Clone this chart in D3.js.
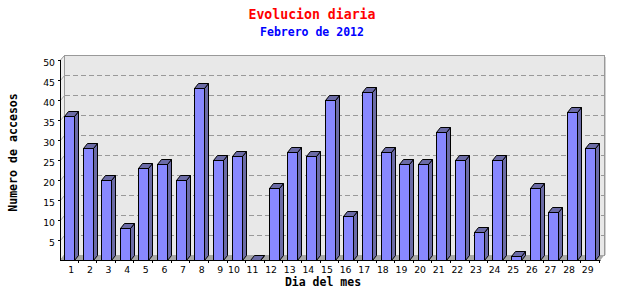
<!DOCTYPE html>
<html>
<head>
<meta charset="utf-8">
<script src="https://cdn.jsdelivr.net/npm/d3@7"></script>
<style>
  body { margin: 0; background: #fff; }
  text { font-family: "DejaVu Sans Mono", monospace; }
</style>
</head>
<body>
<svg width="640" height="300"></svg>
<script>
// data
var dias = ["1","2","3","4","5","6","7","8","9","10","11","12","13","14","15",
            "16","17","18","19","20","21","22","23","24","25","26","27","28","29"];
var accesos = [36,28,20,8,23,24,20,43,25,26,0,18,27,26,40,11,42,27,24,24,32,25,7,25,1,18,12,37,28];
var yTicks = [5,10,15,20,25,30,35,40,45,50];
var titulo = "Evolucion diaria",
    subtitulo = "Febrero de 2012",
    tituloX = "Dia del mes",
    tituloY = "Numero de accesos";

// plot area (window.top is reserved, so no "top" here)
var svg = d3.select("svg"),
    pLeft = 60, pRight = 600, pTop = 60, pBottom = 260,
    dx = 4, dy = 5, // depth of the 3d effect
    w = 10;         // bar front width

var x = d3.scaleBand().domain(dias).range([pLeft, pRight]).paddingInner(0);
var y = d3.scaleLinear().domain([0, 50]).range([pBottom, pTop]);

// back wall
svg.append("rect")
    .attr("x", pLeft + dx + 0.5).attr("y", pTop - dy + 0.5)
    .attr("width", pRight - pLeft).attr("height", pBottom - pTop)
    .attr("fill", "#e8e8e8")
    .attr("stroke", "#999");

// left wall
svg.append("path")
    .attr("d", "M" + (pLeft + 0.5) + "," + pTop + "L" + (pLeft + dx + 0.5) + "," + (pTop - dy + 0.5) +
               "L" + (pLeft + dx + 0.5) + "," + (pBottom - dy) + "L" + (pLeft + 0.5) + "," + pBottom + "Z")
    .attr("fill", "#eeeeee")
    .attr("stroke", "#999");

// floor
svg.append("path")
    .attr("d", "M" + pLeft + "," + pBottom + "L" + (pLeft + dx) + "," + (pBottom - dy) +
               "L" + (pRight + dx + 0.5) + "," + (pBottom - dy) + "L" + (pRight + 0.5) + "," + pBottom + "Z")
    .attr("fill", "#a8a8a8");

// shadow on the right of the wall
svg.append("line")
    .attr("x1", pRight + dx + 1.5).attr("x2", pRight + dx + 1.5)
    .attr("y1", pTop - dy + 2).attr("y2", pBottom - dy)
    .attr("stroke", "#d0d0d0");

// dashed grid on the back wall
svg.append("g")
  .selectAll("line")
  .data(yTicks.slice(0, -1))
  .enter().append("line")
    .attr("x1", pLeft + dx + 1).attr("x2", pRight + dx)
    .attr("y1", function(d) { return y(d) - dy + 0.5; })
    .attr("y2", function(d) { return y(d) - dy + 0.5; })
    .attr("stroke", "#999")
    .attr("stroke-dasharray", "5,3");

// grid on the left wall
svg.append("g")
  .selectAll("line")
  .data(yTicks.slice(0, -1))
  .enter().append("line")
    .attr("x1", pLeft + 0.5).attr("x2", pLeft + dx + 0.5)
    .attr("y1", function(d) { return y(d) + 0.5; })
    .attr("y2", function(d) { return y(d) - dy + 0.5; })
    .attr("stroke", "#aaa");

// 3d bars
function x0(i) { return Math.round(x(dias[i]) + 4) + 0.5; }
function yt(d) { return Math.round(y(d)) + 0.5; }

var bar = svg.append("g")
  .selectAll("g")
  .data(accesos)
  .enter().append("g")
    .attr("stroke", "#000");

bar.append("path") // side
    .attr("fill", "#6b6ba6")
    .attr("d", function(d, i) {
      var a = x0(i) + w, t = yt(d), b = pBottom + 0.5;
      return "M" + a + "," + t + "L" + (a + dx) + "," + (t - dy) + "L" + (a + dx) + "," + (b - dy) + "L" + a + "," + b + "Z";
    });

bar.append("path") // top
    .attr("fill", "#6b6ba6")
    .attr("d", function(d, i) {
      var a = x0(i), t = yt(d);
      return "M" + a + "," + t + "L" + (a + dx) + "," + (t - dy) + "L" + (a + w + dx) + "," + (t - dy) + "L" + (a + w) + "," + t + "Z";
    });

bar.append("rect") // front
    .attr("fill", "#8888ff")
    .attr("x", function(d, i) { return x0(i); })
    .attr("y", function(d) { return yt(d); })
    .attr("width", w)
    .attr("height", function(d) { return pBottom - Math.round(y(d)); })
    .attr("display", function(d) { return d > 0 ? null : "none"; });

// y axis
svg.append("line")
    .attr("x1", pLeft + 0.5).attr("x2", pLeft + 0.5)
    .attr("y1", pTop).attr("y2", pBottom + 0.5)
    .attr("stroke", "#000");

svg.append("g")
  .selectAll("line")
  .data(yTicks)
  .enter().append("line")
    .attr("x1", pLeft - 2).attr("x2", pLeft)
    .attr("y1", function(d) { return y(d) + 0.5; })
    .attr("y2", function(d) { return y(d) + 0.5; })
    .attr("stroke", "#000");

svg.append("g")
  .selectAll("text")
  .data(yTicks)
  .enter().append("text")
    .attr("x", pLeft - 5)
    .attr("y", function(d) { return y(d) + 5.5; })
    .attr("text-anchor", "end")
    .style("font-family", "'DejaVu Sans', sans-serif")
    .style("font-size", "9.3px")
    .text(function(d) { return d; });

// x axis
svg.append("line")
    .attr("x1", pLeft).attr("x2", pRight + 0.5)
    .attr("y1", pBottom + 0.5).attr("y2", pBottom + 0.5)
    .attr("stroke", "#000");

svg.append("g")
  .selectAll("line")
  .data(dias)
  .enter().append("line")
    .attr("x1", function(d) { return Math.round(x(d) + x.bandwidth()) - 0.5; })
    .attr("x2", function(d) { return Math.round(x(d) + x.bandwidth()) - 0.5; })
    .attr("y1", pBottom).attr("y2", pBottom + 3)
    .attr("stroke", "#000");

svg.append("g")
  .selectAll("text")
  .data(dias)
  .enter().append("text")
    .attr("x", function(d) { return x(d) + x.bandwidth() / 2 + (d.length > 1 ? -3 : 2); })
    .attr("y", 273)
    .attr("text-anchor", "middle")
    .style("font-family", "'DejaVu Sans', sans-serif")
    .style("font-size", "9.3px")
    .text(function(d) { return d; });

// titles
svg.append("text")
    .attr("x", 312).attr("y", 18.5)
    .attr("text-anchor", "middle")
    .attr("fill", "#ff0000")
    .style("font-size", "13.2px")
    .style("font-weight", "bold")
    .text(titulo);

svg.append("text")
    .attr("x", 312).attr("y", 36)
    .attr("text-anchor", "middle")
    .attr("fill", "#0000ff")
    .style("font-size", "11.5px")
    .style("font-weight", "bold")
    .text(subtitulo);

svg.append("text")
    .attr("x", 323).attr("y", 285.5)
    .attr("text-anchor", "middle")
    .style("font-size", "11.5px")
    .style("font-weight", "bold")
    .text(tituloX);

svg.append("text")
    .attr("transform", "translate(17,152.5) rotate(-90)")
    .attr("text-anchor", "middle")
    .style("font-size", "11.6px")
    .style("font-weight", "bold")
    .text(tituloY);
</script>
</body>
</html>
